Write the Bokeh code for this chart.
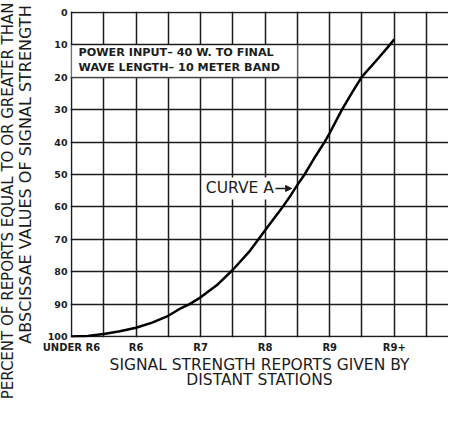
import math
from bokeh.plotting import figure
from bokeh.models import (Range1d, FixedTicker, Label, BoxAnnotation, Arrow, NormalHead, Title)
from bokeh.embed import file_html
from bokeh.resources import INLINE

# ---- data ----
report_labels = ["UNDER R6", "R6", "R7", "R8", "R9", "R9+"]
report_pos = [0, 1, 2, 3, 4, 5]
grid_x = [0, 0.5, 1, 1.5, 2, 2.5, 3, 3.5, 4, 4.5, 5, 5.5]
percent_ticks = [0, 10, 20, 30, 40, 50, 60, 70, 80, 90, 100]

curve_x = [0, 0.25, 0.5, 0.75, 1.0, 1.25, 1.5, 1.7, 1.83, 2.0, 2.25, 2.5, 2.75,
           3.0, 3.25, 3.4, 3.5, 3.61, 3.75, 3.92, 4.0, 4.19, 4.35, 4.5, 4.75,
           4.93, 5.0]
curve_y = [100, 99.8, 99.2, 98.4, 97.3, 95.7, 93.6, 91.2, 90.0, 87.9, 84.2,
           79.4, 73.9, 67.2, 60.6, 56.3, 53.2, 50.0, 45.3, 40.0, 37.2, 30.0,
           24.6, 19.8, 14.2, 10.0, 8.3]

info_lines = ["POWER INPUT\u2013 40 W. TO FINAL", "WAVE LENGTH\u2013 10 METER BAND"]
curve_name = "CURVE A"
y_title = ["PERCENT OF REPORTS EQUAL TO OR GREATER THAN",
           "ABSCISSAE VALUES OF SIGNAL STRENGTH"]
x_title = ["SIGNAL STRENGTH REPORTS GIVEN BY", "DISTANT STATIONS"]

INK = "#1c1c1c"
FONT = "DejaVu Sans"

p = figure(width=448, height=409, output_backend="svg", toolbar_location=None,
           x_range=Range1d(-0.015, 5.84), y_range=Range1d(100.3, -0.3),
           min_border_left=69, min_border_right=0, min_border_top=11,
           min_border_bottom=72, title=None)
p.outline_line_color = None
p.background_fill_color = "white"
p.border_fill_color = "white"

# grid
p.xgrid.ticker = FixedTicker(ticks=grid_x)
p.ygrid.ticker = FixedTicker(ticks=percent_ticks)
for g in (p.xgrid, p.ygrid):
    g.grid_line_color = INK
    g.grid_line_width = 1.5
    g.grid_line_alpha = 1.0

# axes
xa = p.xaxis[0]
xa.ticker = FixedTicker(ticks=report_pos)
xa.major_label_overrides = {pos: lab for pos, lab in zip(report_pos, report_labels)}
ya = p.yaxis[0]
ya.ticker = FixedTicker(ticks=percent_ticks)
for ax in (xa, ya):
    ax.axis_line_color = None
    ax.major_tick_line_color = None
    ax.minor_tick_line_color = None
    ax.major_tick_in = 0
    ax.major_tick_out = 0
    ax.major_label_text_font = FONT
    ax.major_label_text_font_style = "bold"
    ax.major_label_text_color = INK
    ax.axis_label_text_font = FONT
    ax.axis_label_text_font_style = "normal"
    ax.axis_label_text_color = INK
xa.major_label_text_font_size = "10px"
ya.major_label_text_font_size = "9.5px"
xa.major_label_standoff = 4
ya.major_label_standoff = 3

# x title: first line as axis label, second line as a title below it
xa.axis_label = x_title[0]
xa.axis_label_text_font_size = "15.5px"
xa.axis_label_standoff = 0
p.add_layout(Title(text=x_title[1], align="center", vertical_align="top",
                   standoff=-12, text_font=FONT, text_font_style="normal",
                   text_font_size="15.5px", text_color=INK), "below")

# y title: inner line as axis label, outer line as a title
ya.axis_label = y_title[1]
ya.axis_label_text_font_size = "16px"
ya.axis_label_standoff = 10
p.add_layout(Title(text=y_title[0], align="right", vertical_align="bottom",
                   offset=-9, standoff=-8, text_font=FONT, text_font_style="normal",
                   text_font_size="15px", text_color=INK), "left")

# info box
p.add_layout(BoxAnnotation(left=0, right=3.5, top=10, bottom=20,
                           fill_color="white", fill_alpha=1.0,
                           line_color=INK, line_width=1.5, level="annotation"))
for i, txt in enumerate(info_lines):
    p.add_layout(Label(x=0.11, y=12.4 + 4.7 * i, text=txt, text_font=FONT,
                       text_font_style="bold", text_font_size="11.2px",
                       text_color=INK, text_baseline="middle", text_align="left",
                       level="overlay"))

# curve
p.line(curve_x, curve_y, line_color="black", line_width=2.5, line_join="round")

# curve name with arrow
p.add_layout(Label(x=2.05, y=54.3, text=curve_name, text_font=FONT,
                   text_font_size="15.5px", text_color=INK,
                   text_baseline="middle", text_align="left",
                   background_fill_color="white", padding=2))
p.add_layout(Arrow(x_start=3.16, y_start=54.3, x_end=3.41, y_end=54.3,
                   line_color=INK, line_width=1.5,
                   end=NormalHead(size=6, fill_color=INK, line_color=INK)))

open("out.html", "w").write(file_html(p, INLINE))
